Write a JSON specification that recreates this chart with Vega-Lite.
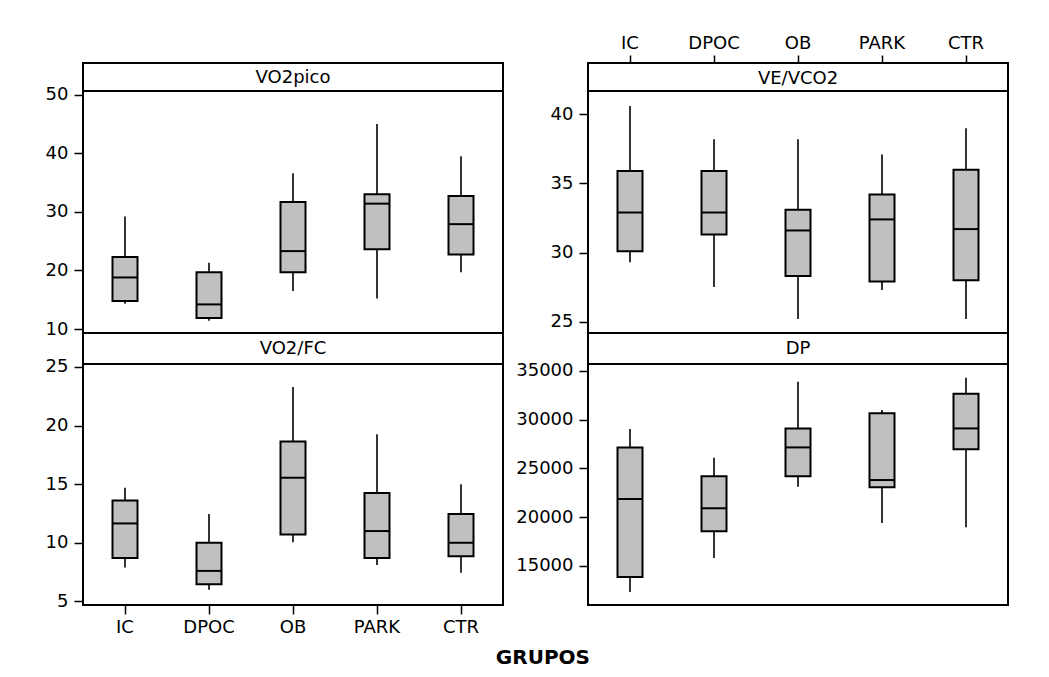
{
  "$schema": "https://vega.github.io/schema/vega-lite/v6.json",
  "padding": {"left": 44, "top": 33, "right": 5, "bottom": 5},
  "background": "white",
  "datasets": {
    "boxes": [
      {"panel": "VO2pico", "grupo": "IC", "min": 14.3, "q1": 14.8, "median": 18.8, "q3": 22.3, "max": 29.2},
      {"panel": "VO2pico", "grupo": "DPOC", "min": 11.4, "q1": 11.9, "median": 14.2, "q3": 19.7, "max": 21.3},
      {"panel": "VO2pico", "grupo": "OB", "min": 16.5, "q1": 19.7, "median": 23.3, "q3": 31.7, "max": 36.6},
      {"panel": "VO2pico", "grupo": "PARK", "min": 15.2, "q1": 23.6, "median": 31.4, "q3": 33.0, "max": 45.0},
      {"panel": "VO2pico", "grupo": "CTR", "min": 19.7, "q1": 22.7, "median": 27.9, "q3": 32.7, "max": 39.5},
      {"panel": "VE/VCO2", "grupo": "IC", "min": 29.3, "q1": 30.1, "median": 32.9, "q3": 35.9, "max": 40.6},
      {"panel": "VE/VCO2", "grupo": "DPOC", "min": 27.5, "q1": 31.3, "median": 32.9, "q3": 35.9, "max": 38.2},
      {"panel": "VE/VCO2", "grupo": "OB", "min": 25.2, "q1": 28.3, "median": 31.6, "q3": 33.1, "max": 38.2},
      {"panel": "VE/VCO2", "grupo": "PARK", "min": 27.3, "q1": 27.9, "median": 32.4, "q3": 34.2, "max": 37.1},
      {"panel": "VE/VCO2", "grupo": "CTR", "min": 25.2, "q1": 28.0, "median": 31.7, "q3": 36.0, "max": 39.0},
      {"panel": "VO2/FC", "grupo": "IC", "min": 7.9, "q1": 8.7, "median": 11.65, "q3": 13.6, "max": 14.7},
      {"panel": "VO2/FC", "grupo": "DPOC", "min": 6.0, "q1": 6.45, "median": 7.6, "q3": 10.0, "max": 12.45},
      {"panel": "VO2/FC", "grupo": "OB", "min": 10.05, "q1": 10.7, "median": 15.55, "q3": 18.65, "max": 23.3},
      {"panel": "VO2/FC", "grupo": "PARK", "min": 8.1, "q1": 8.7, "median": 11.0, "q3": 14.25, "max": 19.25},
      {"panel": "VO2/FC", "grupo": "CTR", "min": 7.45, "q1": 8.85, "median": 10.0, "q3": 12.45, "max": 15.0},
      {"panel": "DP", "grupo": "IC", "min": 12300, "q1": 13850, "median": 21850, "q3": 27150, "max": 29050},
      {"panel": "DP", "grupo": "DPOC", "min": 15800, "q1": 18550, "median": 20900, "q3": 24200, "max": 26100},
      {"panel": "DP", "grupo": "OB", "min": 23100, "q1": 24200, "median": 27150, "q3": 29100, "max": 33900},
      {"panel": "DP", "grupo": "PARK", "min": 19400, "q1": 23050, "median": 23800, "q3": 30650, "max": 31000},
      {"panel": "DP", "grupo": "CTR", "min": 18950, "q1": 26950, "median": 29100, "q3": 32650, "max": 34300}
    ]
  },
  "columns": 2,
  "bounds": "flush",
  "align": "each",
  "spacing": {"row": 0, "column": 85},
  "title": {"text": "GRUPOS", "orient": "bottom", "anchor": "middle", "frame": "bounds", "dx": 16, "font": "DejaVu Sans", "fontSize": 20, "fontWeight": "bold", "color": "black", "offset": 11},
  "concat": [
    {
      "width": 420, "height": 270,
      "data": {"name": "boxes"},
      "transform": [{"filter": "datum.panel === 'VO2pico'"}],
      "layer": [
        {"mark": {"type": "rule", "stroke": "black", "strokeWidth": 1.6},
         "encoding": {
           "x": {"field": "grupo", "type": "nominal", "title": null, "scale": {"domain": ["IC", "DPOC", "OB", "PARK", "CTR"], "paddingInner": 0, "paddingOuter": 0}, "axis": null},
           "y": {"field": "min", "type": "quantitative", "title": null, "scale": {"domain": [9.32, 55.41], "nice": false, "zero": false}, "axis": {"values": [10, 20, 30, 40, 50], "format": "d"}},
           "y2": {"field": "max"}}},
        {"mark": {"type": "bar", "fill": "#c0c0c0", "stroke": "black", "strokeWidth": 2, "width": 25},
         "encoding": {
           "x": {"field": "grupo", "type": "nominal", "title": null},
           "y": {"field": "q1", "type": "quantitative", "title": null},
           "y2": {"field": "q3"}}},
        {"mark": {"type": "tick", "color": "black", "size": 26, "thickness": 2, "opacity": 1},
         "encoding": {
           "x": {"field": "grupo", "type": "nominal", "title": null},
           "y": {"field": "median", "type": "quantitative", "title": null}}},
        {"mark": {"type": "rule", "stroke": "black", "strokeWidth": 1.5},
         "encoding": {"y": {"datum": 50.63, "type": "quantitative"}}},
        {"data": {"values": [{}]},
         "mark": {"type": "text", "text": "VO2pico", "fontSize": 18, "color": "black", "baseline": "middle", "align": "center"},
         "encoding": {"y": {"datum": 52.85, "type": "quantitative"}}}
      ]
    },
    {
      "width": 420, "height": 270,
      "data": {"name": "boxes"},
      "transform": [{"filter": "datum.panel === 'VE/VCO2'"}],
      "layer": [
        {"mark": {"type": "rule", "stroke": "black", "strokeWidth": 1.6},
         "encoding": {
           "x": {"field": "grupo", "type": "nominal", "title": null, "scale": {"domain": ["IC", "DPOC", "OB", "PARK", "CTR"], "paddingInner": 0, "paddingOuter": 0}, "axis": {"orient": "top", "labelAngle": 0, "labelPadding": 3, "tickSize": 8}},
           "y": {"field": "min", "type": "quantitative", "title": null, "scale": {"domain": [24.18, 43.72], "nice": false, "zero": false}, "axis": {"values": [25, 30, 35, 40], "format": "d"}},
           "y2": {"field": "max"}}},
        {"mark": {"type": "bar", "fill": "#c0c0c0", "stroke": "black", "strokeWidth": 2, "width": 25},
         "encoding": {
           "x": {"field": "grupo", "type": "nominal", "title": null},
           "y": {"field": "q1", "type": "quantitative", "title": null},
           "y2": {"field": "q3"}}},
        {"mark": {"type": "tick", "color": "black", "size": 26, "thickness": 2, "opacity": 1},
         "encoding": {
           "x": {"field": "grupo", "type": "nominal", "title": null},
           "y": {"field": "median", "type": "quantitative", "title": null}}},
        {"mark": {"type": "rule", "stroke": "black", "strokeWidth": 1.5},
         "encoding": {"y": {"datum": 41.69, "type": "quantitative"}}},
        {"data": {"values": [{}]},
         "mark": {"type": "text", "text": "VE/VCO2", "fontSize": 18, "color": "black", "baseline": "middle", "align": "center"},
         "encoding": {"y": {"datum": 42.59, "type": "quantitative"}}}
      ]
    },
    {
      "width": 420, "height": 272,
      "data": {"name": "boxes"},
      "transform": [{"filter": "datum.panel === 'VO2/FC'"}],
      "layer": [
        {"mark": {"type": "rule", "stroke": "black", "strokeWidth": 1.6},
         "encoding": {
           "x": {"field": "grupo", "type": "nominal", "title": null, "scale": {"domain": ["IC", "DPOC", "OB", "PARK", "CTR"], "paddingInner": 0, "paddingOuter": 0}, "axis": {"orient": "bottom", "labelAngle": 0, "labelPadding": 4, "tickSize": 9}},
           "y": {"field": "min", "type": "quantitative", "title": null, "scale": {"domain": [4.69, 27.9], "nice": false, "zero": false}, "axis": {"values": [5, 10, 15, 20, 25], "format": "d"}},
           "y2": {"field": "max"}}},
        {"mark": {"type": "bar", "fill": "#c0c0c0", "stroke": "black", "strokeWidth": 2, "width": 25},
         "encoding": {
           "x": {"field": "grupo", "type": "nominal", "title": null},
           "y": {"field": "q1", "type": "quantitative", "title": null},
           "y2": {"field": "q3"}}},
        {"mark": {"type": "tick", "color": "black", "size": 26, "thickness": 2, "opacity": 1},
         "encoding": {
           "x": {"field": "grupo", "type": "nominal", "title": null},
           "y": {"field": "median", "type": "quantitative", "title": null}}},
        {"mark": {"type": "rule", "stroke": "black", "strokeWidth": 1.5},
         "encoding": {"y": {"datum": 25.28, "type": "quantitative"}}},
        {"data": {"values": [{}]},
         "mark": {"type": "text", "text": "VO2/FC", "fontSize": 18, "color": "black", "baseline": "middle", "align": "center"},
         "encoding": {"y": {"datum": 26.53, "type": "quantitative"}}}
      ]
    },
    {
      "width": 420, "height": 272,
      "data": {"name": "boxes"},
      "transform": [{"filter": "datum.panel === 'DP'"}],
      "layer": [
        {"mark": {"type": "rule", "stroke": "black", "strokeWidth": 1.6},
         "encoding": {
           "x": {"field": "grupo", "type": "nominal", "title": null, "scale": {"domain": ["IC", "DPOC", "OB", "PARK", "CTR"], "paddingInner": 0, "paddingOuter": 0}, "axis": null},
           "y": {"field": "min", "type": "quantitative", "title": null, "scale": {"domain": [10969, 38898], "nice": false, "zero": false}, "axis": {"values": [15000, 20000, 25000, 30000, 35000], "format": "d"}},
           "y2": {"field": "max"}}},
        {"mark": {"type": "bar", "fill": "#c0c0c0", "stroke": "black", "strokeWidth": 2, "width": 25},
         "encoding": {
           "x": {"field": "grupo", "type": "nominal", "title": null},
           "y": {"field": "q1", "type": "quantitative", "title": null},
           "y2": {"field": "q3"}}},
        {"mark": {"type": "tick", "color": "black", "size": 26, "thickness": 2, "opacity": 1},
         "encoding": {
           "x": {"field": "grupo", "type": "nominal", "title": null},
           "y": {"field": "median", "type": "quantitative", "title": null}}},
        {"mark": {"type": "rule", "stroke": "black", "strokeWidth": 1.5},
         "encoding": {"y": {"datum": 35749, "type": "quantitative"}}},
        {"data": {"values": [{}]},
         "mark": {"type": "text", "text": "DP", "fontSize": 18, "color": "black", "baseline": "middle", "align": "center"},
         "encoding": {"y": {"datum": 37257, "type": "quantitative"}}}
      ]
    }
  ],
  "config": {
    "font": "DejaVu Sans",
    "view": {"stroke": "black", "strokeWidth": 2, "fill": "white"},
    "axis": {"grid": false, "domain": false, "ticks": true, "tickColor": "black", "tickSize": 9, "tickWidth": 1.5, "labelColor": "black", "labelFont": "DejaVu Sans", "labelFontSize": 18, "labelPadding": 6, "title": null},
    "text": {"font": "DejaVu Sans"}
  }
}
